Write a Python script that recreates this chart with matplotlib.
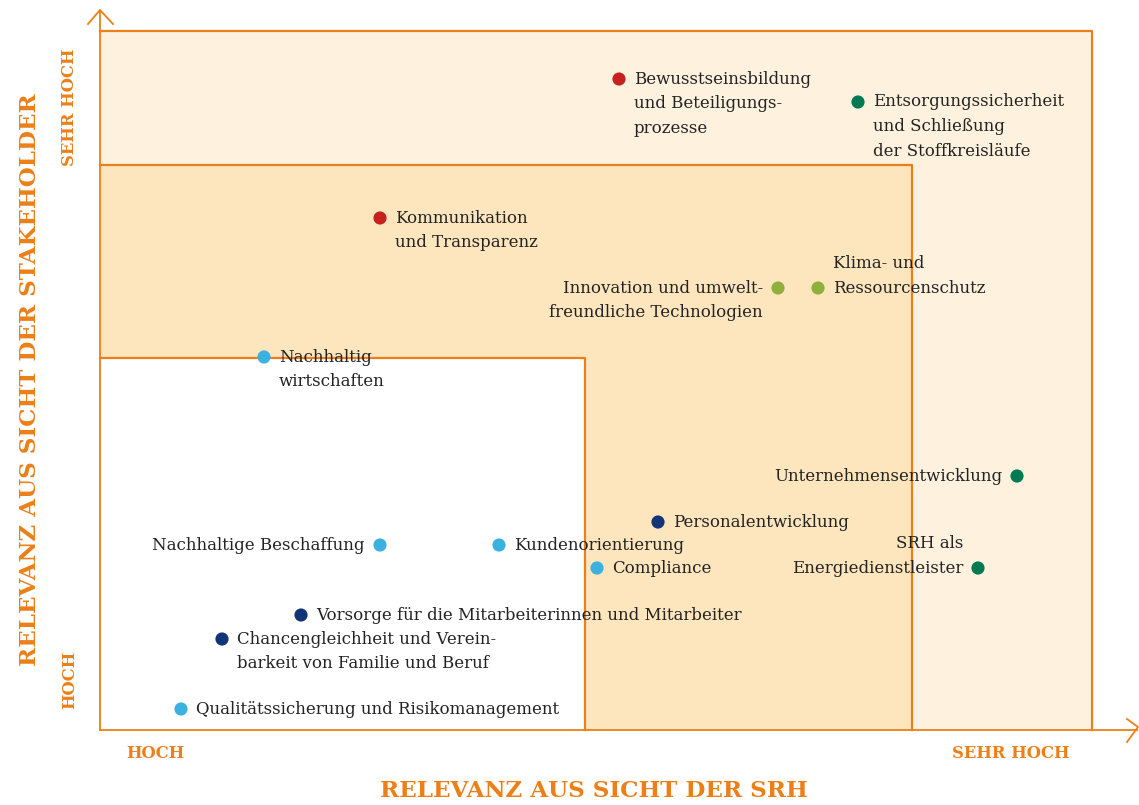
import matplotlib
matplotlib.use("Agg")
import matplotlib.pyplot as plt
from matplotlib.patches import Rectangle

# ---------------- data (positions, pixel-like scale) ----------------
labels = [
    "Bewusstseinsbildung\nund Beteiligungs-\nprozesse",
    "Entsorgungssicherheit\nund Schließung\nder Stoffkreisläufe",
    "Kommunikation\nund Transparenz",
    "Innovation und umwelt-\nfreundliche Technologien",
    "Klima- und\nRessourcenschutz",
    "Nachhaltig\nwirtschaften",
    "Unternehmensentwicklung",
    "Personalentwicklung",
    "Nachhaltige Beschaffung",
    "Kundenorientierung",
    "Compliance",
    "SRH als\nEnergiedienstleister",
    "Vorsorge für die Mitarbeiterinnen und Mitarbeiter",
    "Chancengleichheit und Verein-\nbarkeit von Familie und Beruf",
    "Qualitätssicherung und Risikomanagement",
]
x_srh = [619, 858, 380, 778, 818, 264, 1017, 658, 380, 499, 597, 978, 301, 222, 181]
y_stake = [79, 102, 218, 288, 288, 357, 476, 522, 545, 545, 568, 568, 615, 639, 709]
groups = ["red", "dgreen", "red", "lgreen", "lgreen", "lblue", "dgreen", "navy",
          "lblue", "lblue", "lblue", "dgreen", "navy", "navy", "lblue"]
label_side = ["r", "r", "r", "l", "r", "r", "l", "r", "l", "r", "r", "l", "r", "r", "r"]
dot_line = [0, 0, 0, 0, 1, 0, 0, 0, 0, 0, 0, 1, 0, 0, 0]

x_ticks = ["HOCH", "SEHR HOCH"]
y_ticks = ["HOCH", "SEHR HOCH"]
x_title = "RELEVANZ AUS SICHT DER SRH"
y_title = "RELEVANZ AUS SICHT DER STAKEHOLDER"

# ---------------- style ----------------
palette = {"red": "#C7211F", "dgreen": "#007A52", "lgreen": "#8DB13B",
           "lblue": "#3BB1DF", "navy": "#123579"}
ORANGE = "#EC7F17"
TXT = "#232323"
LIGHT = "#FEF2DE"
MID = "#FDE5BD"

W, H = 1139, 805
fig = plt.figure(figsize=(W / 100, H / 100), dpi=100)
ax = fig.add_axes([0, 0, 1, 1])
ax.set_xlim(0, W)
ax.set_ylim(H, 0)
ax.axis("off")

# regions
X0, X1, X2, X3 = 100, 585, 912, 1092
Y0, Y1, Y2, Y3 = 31, 165, 358, 730
ax.add_patch(Rectangle((X0, Y0), X3 - X0, Y3 - Y0, facecolor=LIGHT, edgecolor="none", zorder=0))
ax.add_patch(Rectangle((X0, Y1), X2 - X0, Y3 - Y1, facecolor=MID, edgecolor="none", zorder=1))
ax.add_patch(Rectangle((X0, Y2), X1 - X0, Y3 - Y2, facecolor="white", edgecolor="none", zorder=2))
lw = 1.6
ax.plot([X0, X3, X3], [Y0, Y0, Y3], color=ORANGE, lw=lw, zorder=3)
ax.plot([X0, X2, X2], [Y1, Y1, Y3], color=ORANGE, lw=lw, zorder=3)
ax.plot([X0, X1, X1], [Y2, Y2, Y3], color=ORANGE, lw=lw, zorder=3)

# axes arrows
ax.plot([X0, X0], [Y3, 12], color=ORANGE, lw=1.3, zorder=3)
ax.plot([88, X0, 113], [24, 10, 24], color=ORANGE, lw=1.3, zorder=3)
ax.plot([X0, 1137], [Y3, Y3], color=ORANGE, lw=1.3, zorder=3)
ax.plot([1127, 1138, 1127], [719, 727, 742], color=ORANGE, lw=1.3, zorder=3)

# points
ax.scatter(x_srh, y_stake, s=90, c=[palette[g] for g in groups], edgecolors="none", zorder=5)

FONT = "DejaVu Serif"
FS = 12.0
LINE = 24.8
GAP = 15
for lab, x, y, side, dl in zip(labels, x_srh, y_stake, label_side, dot_line):
    lines = lab.split("\n")
    for i, ln in enumerate(lines):
        yy = y + (i - dl) * LINE
        if side == "r":
            ax.text(x + GAP, yy, ln, ha="left", va="center", fontsize=FS, family=FONT,
                    color=TXT, zorder=6)
        else:
            ax.text(x - GAP, yy, ln, ha="right", va="center", fontsize=FS, family=FONT,
                    color=TXT, zorder=6)

# axis labels
bold = dict(family="DejaVu Serif", weight="bold", color=ORANGE)
ax.text(155, 753, x_ticks[0], ha="center", va="center", fontsize=11.8, **bold)
ax.text(1011, 753, x_ticks[1], ha="center", va="center", fontsize=11.8, **bold)
ax.text(70, 680, y_ticks[0], ha="center", va="center", rotation=90, fontsize=11.8, **bold)
ax.text(70, 107, y_ticks[1], ha="center", va="center", rotation=90, fontsize=11.8, **bold)
ax.text(594, 791, x_title, ha="center", va="center", fontsize=16.6, **bold)
ax.text(30, 380, y_title, ha="center", va="center", rotation=90, fontsize=16.6, **bold)

fig.savefig("out.png", dpi=100)
